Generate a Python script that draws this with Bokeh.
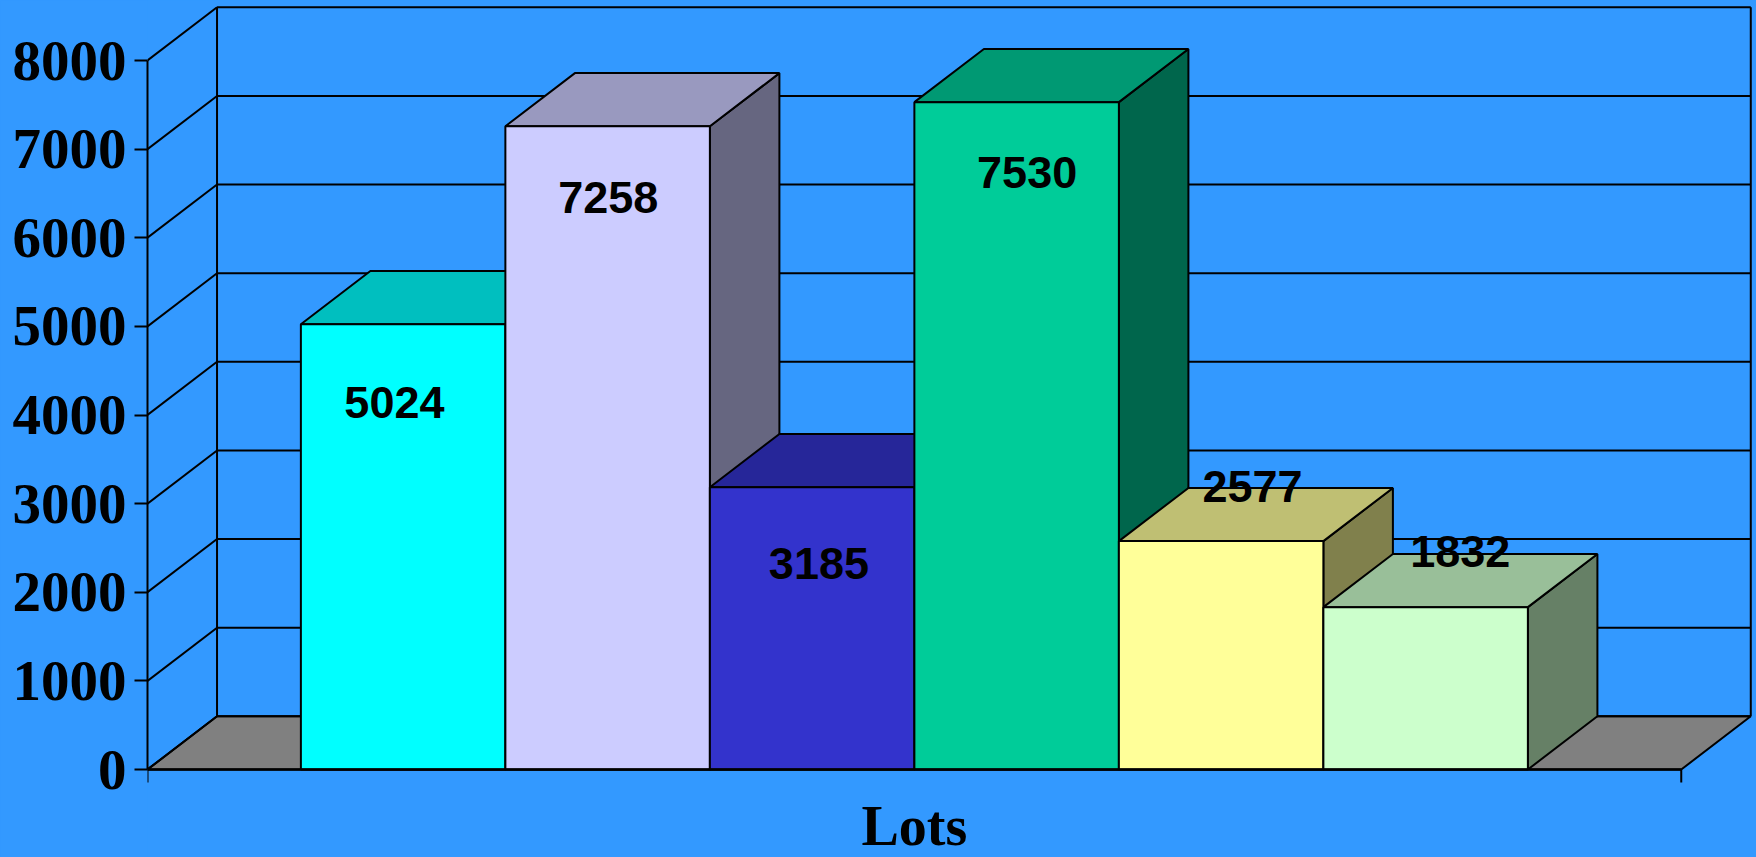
from bokeh.plotting import figure
from bokeh.models import Range1d, FixedTicker, LinearAxis, ColumnDataSource
from bokeh.embed import file_html
from bokeh.resources import INLINE
from bokeh.core.properties import value

# ---------------- data ----------------
category = "Lots"
series_values = [5024, 7258, 3185, 7530, 2577, 1832]
series_colors = ["#00FFFF", "#CCCCFF", "#3333CC", "#00CC99", "#FFFF99", "#CCFFCC"]
y_ticks = [0, 1000, 2000, 3000, 4000, 5000, 6000, 7000, 8000]
y_tick_labels = ["0", "1000", "2000", "3000", "4000", "5000", "6000", "7000", "8000"]

# ---------------- geometry / style ----------------
W, H = 1756, 857
BG = "#3399FF"
LEFT = 147                 # room for the value axis
PX_PER_UNIT = 204.5        # px per bar width
GAP = 0.75                 # gap (in bar widths) on each side of the category
N = len(series_values)
CAT_W = N + 2 * GAP
Y0_PX = 769                # screen y of value 0
PX_PER_VAL = 0.088625      # px per value unit
DX = 0.34                  # depth offset, x (bar widths)
DY = 600                   # depth offset, y (value units)
LW = 2

y_start = -(H - Y0_PX) / PX_PER_VAL
y_end = Y0_PX / PX_PER_VAL
val_per_px = 1 / PX_PER_VAL

# label offsets (screen px) relative to front-top centre of each bar
label_dx = [-8.7, 0.6, 6.8, 10.5, 31.4, 34.6]
label_dy = [78.5, 71.4, 76.6, 70.3, -54.6, -55.6]


def shade(hexcol, f):
    h = hexcol.lstrip("#")
    r, g, b = (int(h[i:i + 2], 16) for i in (0, 2, 4))
    return "#%02X%02X%02X" % (round(r * f), round(g * f), round(b * f))


p = figure(width=W, height=H, output_backend="svg", toolbar_location=None,
           x_range=Range1d(0, (W - LEFT) / PX_PER_UNIT),
           y_range=Range1d(y_start, y_end),
           min_border_left=LEFT, min_border_right=0, min_border_top=0, min_border_bottom=0,
           background_fill_color=BG, border_fill_color=BG, outline_line_color=None,
           x_axis_type=None, y_axis_type=None)

# value axis
yaxis = LinearAxis(ticker=FixedTicker(ticks=y_ticks), bounds=(0, y_ticks[-1]))
yaxis.major_label_overrides = {t: l for t, l in zip(y_ticks, y_tick_labels)}
yaxis.axis_line_color = "black"
yaxis.axis_line_width = 2
yaxis.major_tick_line_color = "black"
yaxis.major_tick_line_width = 2
yaxis.major_tick_out = 13
yaxis.major_tick_in = 0
yaxis.minor_tick_out = 0
yaxis.minor_tick_in = 0
yaxis.major_label_standoff = 8
yaxis.major_label_text_font = "Liberation Serif"
yaxis.major_label_text_font_style = "bold"
yaxis.major_label_text_font_size = "57px"
yaxis.major_label_text_color = "black"
p.add_layout(yaxis, "left")

# floor
p.patch([0, DX, CAT_W + DX, CAT_W], [0, DY, DY, 0],
        fill_color="#808080", line_color="black", line_width=LW)

# left wall diagonals
p.segment(x0=[0] * len(y_ticks), y0=y_ticks, x1=[DX] * len(y_ticks),
          y1=[t + DY for t in y_ticks], line_color="black", line_width=LW)
# back wall gridlines
p.segment(x0=[DX] * len(y_ticks), y0=[t + DY for t in y_ticks],
          x1=[CAT_W + DX] * len(y_ticks), y1=[t + DY for t in y_ticks],
          line_color="black", line_width=LW)
# wall verticals
p.segment(x0=[DX, CAT_W + DX], y0=[DY, DY], x1=[DX, CAT_W + DX],
          y1=[y_ticks[-1] + DY] * 2, line_color="black", line_width=LW)

# bars
lefts = [GAP + i for i in range(N)]
rights = [l + 1 for l in lefts]
side_xs = [[r, r + DX, r + DX, r] for r in rights]
side_ys = [[0, DY, v + DY, v] for v in series_values]
top_xs = [[l, l + DX, r + DX, r] for l, r in zip(lefts, rights)]
top_ys = [[v, v + DY, v + DY, v] for v in series_values]

p.patches(side_xs, side_ys, fill_color=[shade(c, 0.5) for c in series_colors],
          line_color="black", line_width=LW)
p.patches(top_xs, top_ys, fill_color=[shade(c, 0.75) for c in series_colors],
          line_color="black", line_width=LW)
p.quad(left=lefts, right=rights, bottom=[0] * N, top=series_values,
       fill_color=series_colors, line_color="black", line_width=LW)

# category axis line and its ticks
p.segment(x0=[0], y0=[0], x1=[CAT_W], y1=[0], line_color="black", line_width=2.4)
p.segment(x0=[0, CAT_W], y0=[0, 0], x1=[0, CAT_W], y1=[-13 * val_per_px] * 2,
          line_color="black", line_width=2)

# data labels
src = ColumnDataSource(dict(
    x=[(l + r) / 2 for l, r in zip(lefts, rights)],
    y=series_values,
    text=[str(v) for v in series_values],
    xo=label_dx, yo=label_dy))
p.text(x="x", y="y", text="text", x_offset="xo", y_offset="yo", source=src,
       text_font=value("Liberation Sans"), text_font_style="bold",
       text_font_size="45px", text_color="black",
       text_align="center", text_baseline="middle")

# category title
p.text(x=[CAT_W / 2], y=[0], text=[category], y_offset=[56],
       text_font=value("Liberation Serif"), text_font_style="bold",
       text_font_size="56px", text_color="black",
       text_align="center", text_baseline="middle")

html = file_html(p, INLINE, title="Lots")
html = html.replace("</head>",
                    "<style>html,body{margin:0;padding:0;overflow:hidden;background:#3399FF;}</style></head>", 1)
with open("out.html", "w") as f:
    f.write(html)
